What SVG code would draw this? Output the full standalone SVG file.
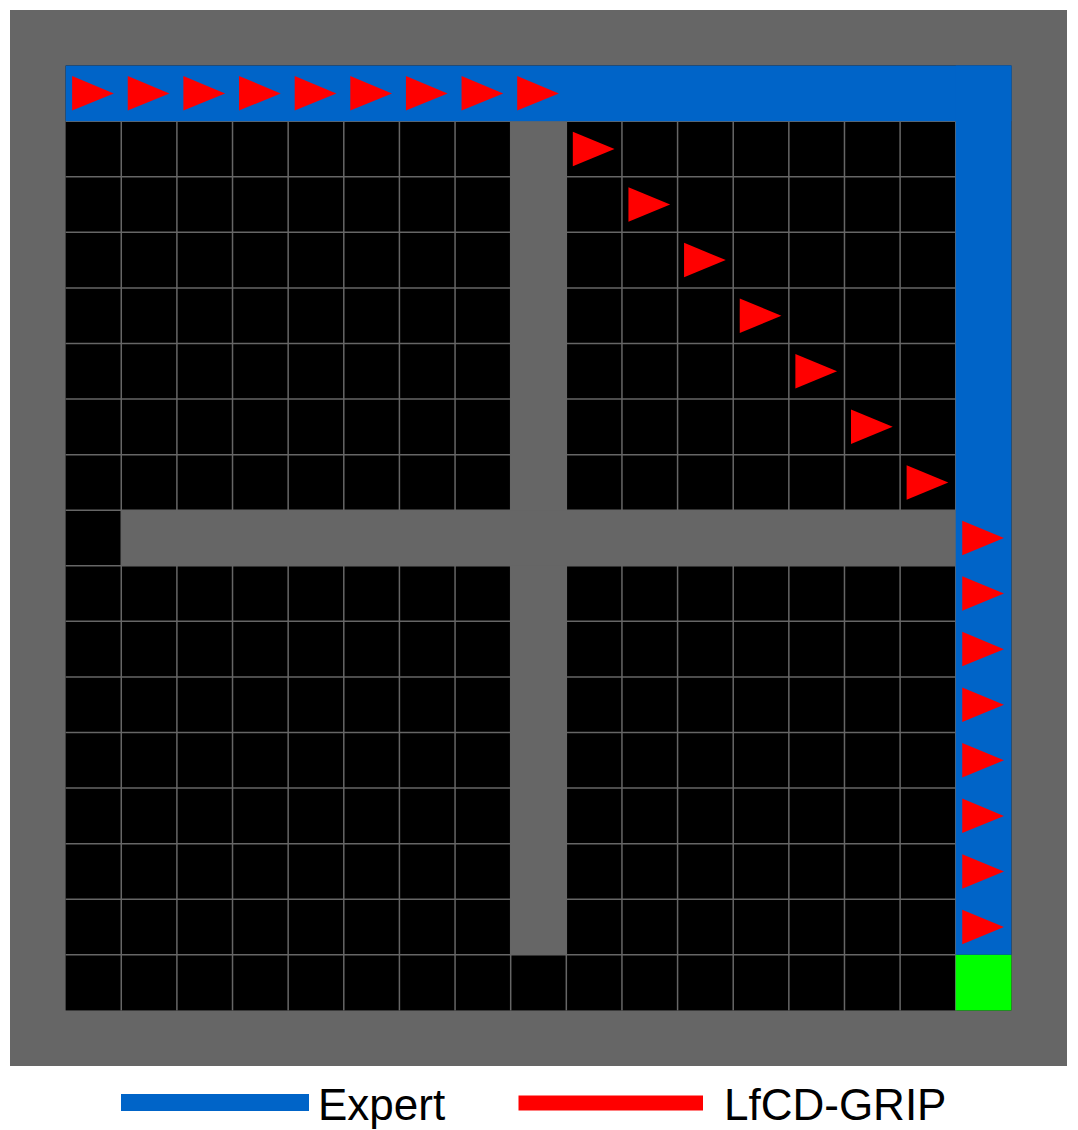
<svg xmlns="http://www.w3.org/2000/svg" xmlns:xlink="http://www.w3.org/1999/xlink" width="1078" height="1130" viewBox="0 0 1078 1130">
<style>
.wall{fill:#666666}
.free{fill:#000000}
.grid{stroke:#666666;stroke-width:1.5;fill:none}
.expert{fill:#0064C8}
.goal{fill:#00FF00}
.agent{fill:#FF0000}
.lbl{font-family:"Liberation Sans",Arial,sans-serif;font-size:44px;fill:#000000}
</style>
<defs>
<path id="tri" class="agent" d="M6.5,10.5 L48.2,27.8 L6.5,45 Z"/>
</defs>
<rect width="1078" height="1130" fill="#ffffff"/>
<g id="world">
<rect class="wall" x="10" y="10" width="1057" height="1056"/>
<rect class="free" x="65.63" y="65.58" width="945.75" height="944.84"/>
</g>
<g id="gridlines">
<path class="grid" d="M121.26,121.16V1010.42 M176.9,121.16V1010.42 M232.53,121.16V1010.42 M288.16,121.16V1010.42 M343.79,121.16V1010.42 M399.42,121.16V1010.42 M455.06,121.16V1010.42 M510.69,121.16V1010.42 M566.32,121.16V1010.42 M621.95,121.16V1010.42 M677.58,121.16V1010.42 M733.22,121.16V1010.42 M788.85,121.16V1010.42 M844.48,121.16V1010.42 M900.11,121.16V1010.42 M955.74,121.16V1010.42 M65.63,121.16H955.74 M65.63,176.74H955.74 M65.63,232.32H955.74 M65.63,287.89H955.74 M65.63,343.47H955.74 M65.63,399.05H955.74 M65.63,454.63H955.74 M65.63,510.21H955.74 M65.63,565.79H955.74 M65.63,621.37H955.74 M65.63,676.95H955.74 M65.63,732.53H955.74 M65.63,788.11H955.74 M65.63,843.68H955.74 M65.63,899.26H955.74 M65.63,954.84H955.74"/>
</g>
<g id="walls">
<rect class="wall" x="510.69" y="121.16" width="55.63" height="833.68"/>
<rect class="wall" x="121.26" y="510.21" width="834.48" height="55.58"/>
</g>
<g id="expert-path">
<rect class="expert" x="65.63" y="65.58" width="945.75" height="55.58"/>
<rect class="expert" x="955.74" y="65.58" width="55.64" height="889.26"/>
</g>
<g id="goal">
<rect class="goal" x="955.74" y="954.84" width="55.64" height="55.58"/>
</g>
<g id="agent-path">
<use xlink:href="#tri" x="65.63" y="65.58"/>
<use xlink:href="#tri" x="121.26" y="65.58"/>
<use xlink:href="#tri" x="176.9" y="65.58"/>
<use xlink:href="#tri" x="232.53" y="65.58"/>
<use xlink:href="#tri" x="288.16" y="65.58"/>
<use xlink:href="#tri" x="343.79" y="65.58"/>
<use xlink:href="#tri" x="399.42" y="65.58"/>
<use xlink:href="#tri" x="455.06" y="65.58"/>
<use xlink:href="#tri" x="510.69" y="65.58"/>
<use xlink:href="#tri" x="566.32" y="121.16"/>
<use xlink:href="#tri" x="621.95" y="176.74"/>
<use xlink:href="#tri" x="677.58" y="232.32"/>
<use xlink:href="#tri" x="733.22" y="287.89"/>
<use xlink:href="#tri" x="788.85" y="343.47"/>
<use xlink:href="#tri" x="844.48" y="399.05"/>
<use xlink:href="#tri" x="900.11" y="454.63"/>
<use xlink:href="#tri" x="955.74" y="510.21"/>
<use xlink:href="#tri" x="955.74" y="565.79"/>
<use xlink:href="#tri" x="955.74" y="621.37"/>
<use xlink:href="#tri" x="955.74" y="676.95"/>
<use xlink:href="#tri" x="955.74" y="732.53"/>
<use xlink:href="#tri" x="955.74" y="788.11"/>
<use xlink:href="#tri" x="955.74" y="843.68"/>
<use xlink:href="#tri" x="955.74" y="899.26"/>
</g>
<g id="legend">
<rect class="expert" x="121" y="1094" width="188" height="17"/>
<text class="lbl" x="318" y="1120">Expert</text>
<rect class="agent" x="518.5" y="1095.5" width="184.5" height="15"/>
<text class="lbl" x="724" y="1120">LfCD-GRIP</text>
</g>
</svg>
